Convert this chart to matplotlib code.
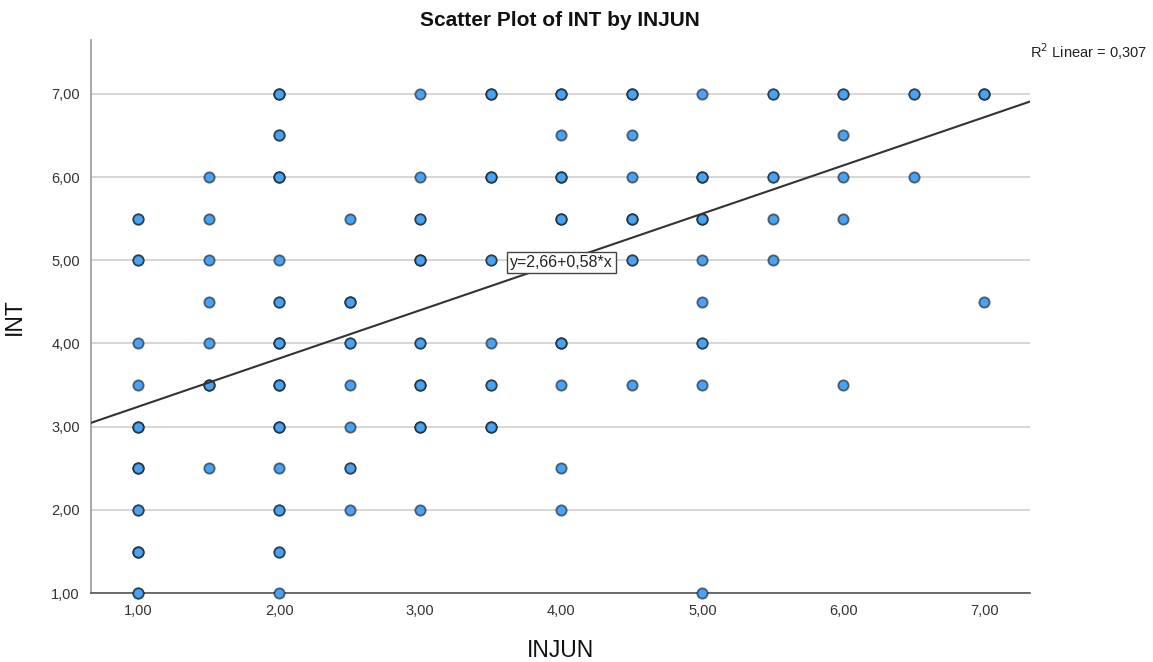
import numpy as np
import matplotlib.pyplot as plt

plt.rcParams['font.family'] = ['Liberation Sans', 'DejaVu Sans']

# INJUN (x) vs INT (y); cnt = how many cases sit on the same spot
injun = [1, 1, 1, 1, 1, 1, 1, 1, 1,
         1.5, 1.5, 1.5, 1.5, 1.5, 1.5, 1.5,
         2, 2, 2, 2, 2, 2, 2, 2, 2, 2, 2, 2,
         2.5, 2.5, 2.5, 2.5, 2.5, 2.5, 2.5,
         3, 3, 3, 3, 3, 3, 3, 3,
         3.5, 3.5, 3.5, 3.5, 3.5, 3.5,
         4, 4, 4, 4, 4, 4, 4, 4,
         4.5, 4.5, 4.5, 4.5, 4.5, 4.5,
         5, 5, 5, 5, 5, 5, 5, 5,
         5.5, 5.5, 5.5, 5.5,
         6, 6, 6, 6, 6,
         6.5, 6.5,
         7, 7]
int_ = [5.5, 5, 4, 3.5, 3, 2.5, 2, 1.5, 1,
        6, 5.5, 5, 4.5, 4, 3.5, 2.5,
        7, 6.5, 6, 5, 4.5, 4, 3.5, 3, 2.5, 2, 1.5, 1,
        5.5, 4.5, 4, 3.5, 3, 2.5, 2,
        7, 6, 5.5, 5, 4, 3.5, 3, 2,
        7, 6, 5, 4, 3.5, 3,
        7, 6.5, 6, 5.5, 4, 3.5, 2.5, 2,
        7, 6.5, 6, 5.5, 5, 3.5,
        7, 6, 5.5, 5, 4.5, 4, 3.5, 1,
        7, 6, 5.5, 5,
        7, 6.5, 6, 5.5, 3.5,
        7, 6,
        7, 4.5]
cnt = [2, 2, 1, 1, 3, 3, 2, 3, 2,
       1, 1, 1, 1, 1, 3, 1,
       3, 2, 3, 1, 2, 3, 3, 3, 1, 2, 2, 1,
       1, 3, 2, 1, 1, 2, 1,
       1, 1, 2, 3, 2, 3, 3, 1,
       3, 3, 2, 1, 2, 3,
       3, 1, 3, 3, 3, 1, 1, 1,
       3, 1, 1, 3, 2, 1,
       1, 3, 3, 1, 1, 2, 1, 1,
       2, 2, 1, 1,
       2, 1, 1, 1, 1,
       2, 1,
       3, 1]

intercept = 2.66
slope = 0.58
r2 = 0.307

fig = plt.figure(figsize=(11.53, 6.62), dpi=100)
ax = fig.add_axes([0.079, 0.104, 0.814, 0.836])

ax.set_xlim(0.667, 7.32)
ax.set_ylim(1.0, 7.65)
ax.set_yticks([1, 2, 3, 4, 5, 6, 7])
ax.set_xticks([1, 2, 3, 4, 5, 6, 7])
fmt = lambda v: ('%.2f' % v).replace('.', ',')
ax.set_xticklabels([fmt(v) for v in ax.get_xticks()])
ax.set_yticklabels([fmt(v) for v in ax.get_yticks()])
ax.tick_params(length=0, labelsize=10.5, colors='#333333', pad=8)
ax.yaxis.grid(True, color='#cfcfcf', lw=1.2)
ax.set_axisbelow(True)

for s in ['top', 'right']:
    ax.spines[s].set_visible(False)
ax.spines['left'].set_color('#9a9a9a')
ax.spines['bottom'].set_color('#555555')
ax.spines['left'].set_linewidth(1.2)
ax.spines['bottom'].set_linewidth(1.2)

# stack overlapping cases so the outline gets darker
xs = np.repeat(injun, cnt)
ys = np.repeat(int_, cnt)
ax.scatter(xs, ys, s=55, facecolor='#4ba3ef', edgecolor=(0.06, 0.1, 0.16, 0.62),
           linewidth=1.3, zorder=3, clip_on=False)

# fit line
lx = np.array([0.667, 7.32])
ax.plot(lx, intercept + slope * lx, color='#333333', lw=1.5, zorder=4)
ax.text(4.0, 4.97, 'y=' + fmt(intercept) + '+' + fmt(slope) + '*x', ha='center', va='center',
        fontsize=11.5, color='#222222', zorder=5,
        bbox=dict(boxstyle='square,pad=0.2', facecolor='white', edgecolor='#444444', lw=1))

ax.set_title('Scatter Plot of INT by INJUN', fontsize=15, fontweight='bold', pad=10, color='#111111')
ax.set_xlabel('INJUN', fontsize=16.5, color='#111111')
ax.set_ylabel('INT', fontsize=16.5, color='#111111')
ax.xaxis.set_label_coords(0.5, -0.082)
ax.yaxis.set_label_coords(-0.07, 0.5)

fig.text(0.893, 0.913, r'R$^2$ Linear = ' + ('%.3f' % r2).replace('.', ','), fontsize=10.5, color='#222222')

fig.savefig('out.png', dpi=100, facecolor='white')
